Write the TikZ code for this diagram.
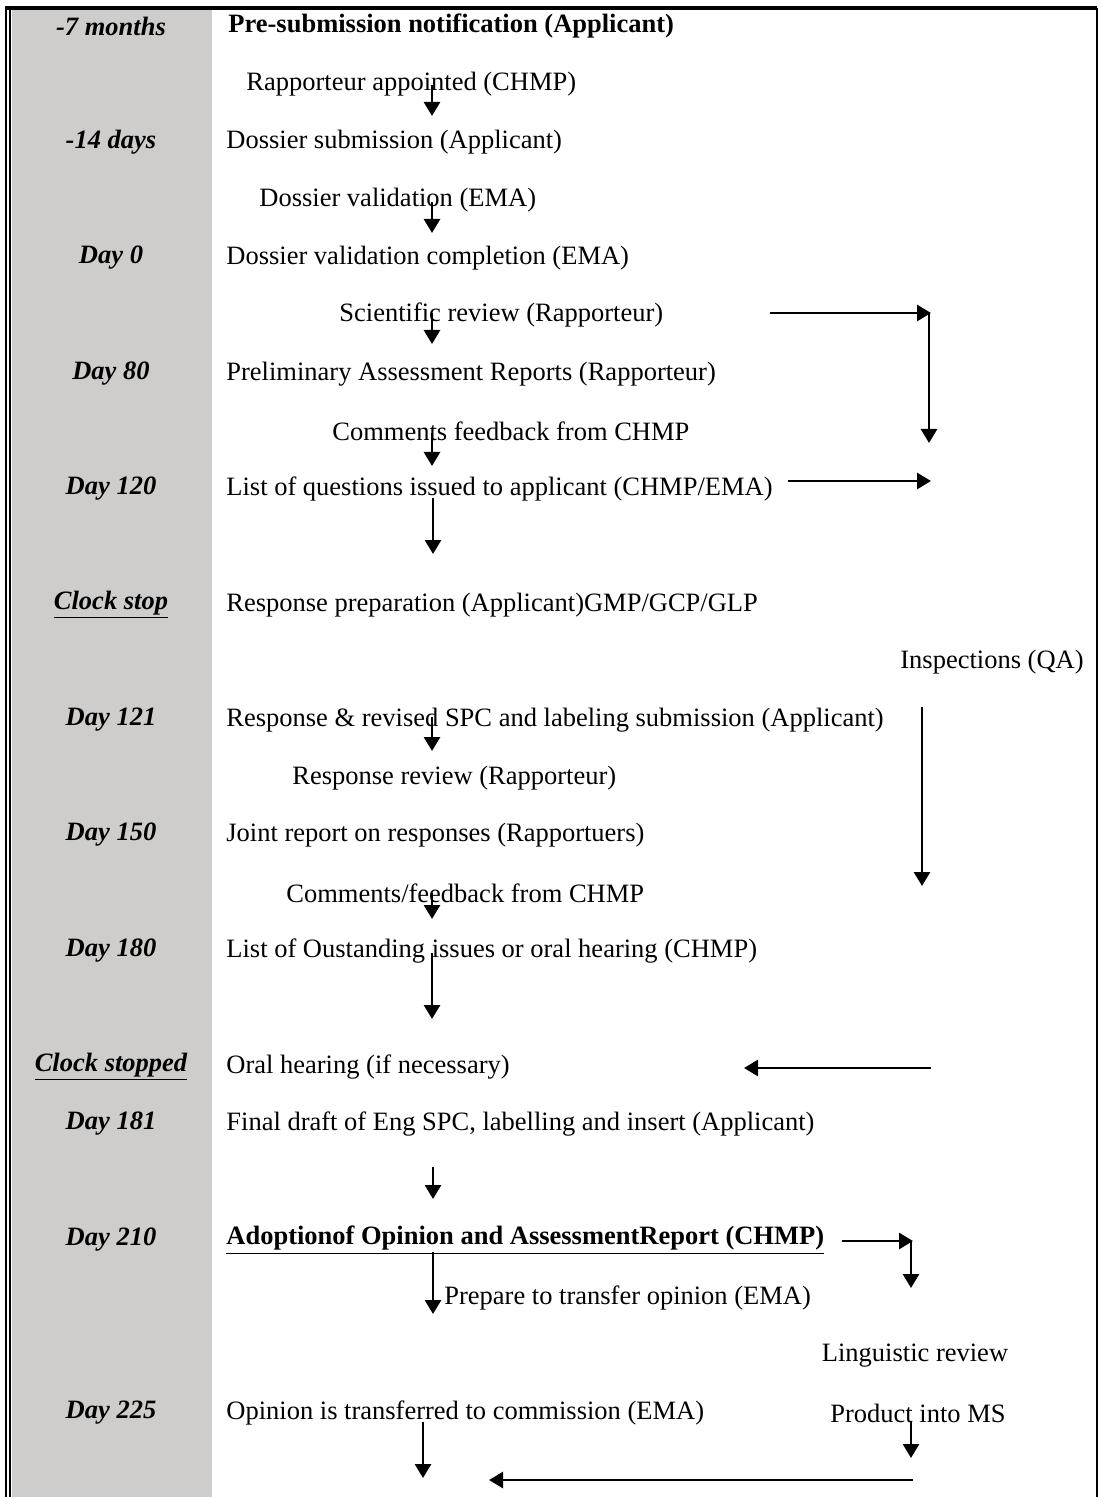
\documentclass[tikz,border=0pt]{standalone}
\usepackage{fontspec}
\setmainfont{Liberation Serif}
\usetikzlibrary{arrows.meta}
\definecolor{colgray}{RGB}{206,205,204}
\tikzset{day/.style={font=\fontsize{13.25}{15}\selectfont\bfseries\itshape, inner sep=0pt, yshift=-1pt},
	stage/.style={anchor=west, font=\fontsize{13.25}{15}\selectfont, inner sep=0pt, yshift=-1pt},
	side/.style={font=\fontsize{13.25}{15}\selectfont, inner sep=0pt, yshift=-1pt},
	flow/.style={-{Triangle[width=8pt,length=7pt]}, line width=1.4pt}}

\begin{document}
\begin{tikzpicture}[x=0.5pt,y=-0.5pt]
		\useasboundingbox (0,0) rectangle (1099,1497);
		% frame and time column
		\fill[colgray] (12,10) rectangle (212,1497);
		\draw[line width=2pt] (5,8) -- (1097,8);
		\draw[line width=1.25pt] (6,8) -- (6,1497);
		\draw[line width=0.75pt] (10,10) -- (10,1497);
		\draw[line width=0.75pt] (1097,8) -- (1097,1497);

		% time points
		\node[day] (m7) at (111,24) {-7 months};
		\node[day] (d14) at (111,140) {-14 days};
		\node[day] (d0) at (111,256) {Day 0};
		\node[day] (d80) at (111,372) {Day 80};
		\node[day] (d120) at (111,487) {Day 120};
		\node[day] (cs) at (111,603) {\underline{Clock stop}};
		\node[day] (d121) at (111,718) {Day 121};
		\node[day] (d150) at (111,833) {Day 150};
		\node[day] (d180) at (111,949) {Day 180};
		\node[day] (csd) at (111,1065) {\underline{Clock stopped}};
		\node[day] (d181) at (111,1122) {Day 181};
		\node[day] (d210) at (111,1238) {Day 210};
		\node[day] (d225) at (111,1411) {Day 225};

		% steps
		\node[stage] (presub) at (228,24) {\bfseries Pre-submission notification (Applicant)};
		\node[stage] (rapp) at (246,82) {Rapporteur appointed (CHMP)};
		\node[stage] (subm) at (226,140) {Dossier submission (Applicant)};
		\node[stage] (valid) at (259,198) {Dossier validation (EMA)};
		\node[stage] (validc) at (226,256) {Dossier validation completion (EMA)};
		\node[stage] (scirev) at (339,313) {Scientific review (Rapporteur)};
		\node[stage] (prelim) at (226,372) {Preliminary Assessment Reports (Rapporteur)};
		\node[stage] (comm) at (332,429) {Comments feedback from CHMP};
		\node[stage] (loq) at (226,487) {List of questions issued to applicant (CHMP/EMA)};
		\node[stage] (resprep) at (226,603) {Response preparation (Applicant)GMP/GCP/GLP};
		\node[side, anchor=east] (insp) at (1084,660) {Inspections (QA)};
		\node[stage] (resp) at (226,718) {Response \& revised SPC and labeling submission (Applicant)};
		\node[stage] (resrev) at (292,776) {Response review (Rapporteur)};
		\node[stage] (joint) at (226,833) {Joint report on responses (Rapportuers)};
		\node[stage] (comm2) at (286,891) {Comments/feedback from CHMP};
		\node[stage] (lois) at (226,949) {List of Oustanding issues or oral hearing (CHMP)};
		\node[stage] (oral) at (226,1065) {Oral hearing (if necessary)};
		\node[stage] (final) at (226,1122) {Final draft of Eng SPC, labelling and insert (Applicant)};
		\node[stage] (adopt) at (226,1238) {\bfseries\underline{Adoptionof Opinion and AssessmentReport (CHMP)}};
		\node[stage] (prep) at (444,1296) {Prepare to transfer opinion (EMA)};
		\node[side] (ling) at (915,1354) {Linguistic review};
		\node[stage] (trans) at (226,1411) {Opinion is transferred to commission (EMA)};
		\node[side] (ms) at (918,1411) {Product into MS};

		% arrow ends
		\coordinate (a1) at (432,85);   \coordinate (b1) at (432,116);
		\coordinate (a2) at (432,202);  \coordinate (b2) at (432,233);
		\coordinate (a3) at (432,313);  \coordinate (b3) at (432,344);
		\coordinate (a4) at (432,433);  \coordinate (b4) at (432,466);
		\coordinate (a5) at (433,498);  \coordinate (b5) at (433,554);
		\coordinate (a6) at (432,717);  \coordinate (b6) at (432,751);
		\coordinate (a7) at (432,893);  \coordinate (b7) at (432,919);
		\coordinate (a8) at (432,953);  \coordinate (b8) at (432,1019);
		\coordinate (a9) at (433,1167); \coordinate (b9) at (433,1199);
		\coordinate (a10) at (433,1252); \coordinate (b10) at (433,1314);
		\coordinate (a11) at (423,1422); \coordinate (b11) at (423,1478);
		\coordinate (revS) at (770,313);  \coordinate (revT) at (931,313);
		\coordinate (revC) at (929,313);  \coordinate (revE) at (929,443);
		\coordinate (loqS) at (788,481);  \coordinate (loqE) at (931,481);
		\coordinate (inspS) at (922,707); \coordinate (inspE) at (922,886);
		\coordinate (oralS) at (931,1068); \coordinate (oralE) at (744,1068);
		\coordinate (adS) at (842,1241);  \coordinate (adT) at (913,1241);
		\coordinate (adC) at (911,1241);  \coordinate (adE) at (911,1288);
		\coordinate (msS) at (911,1422);  \coordinate (msE) at (911,1458);
		\coordinate (botS) at (913,1480); \coordinate (botE) at (489,1480);

		\path [flow](a1) edge node {} (b1);
		\path [flow](a2) edge node {} (b2);
		\path [flow](a3) edge node {} (b3);
		\path [flow](a4) edge node {} (b4);
		\path [flow](a5) edge node {} (b5);
		\path [flow](a6) edge node {} (b6);
		\path [flow](a7) edge node {} (b7);
		\path [flow](a8) edge node {} (b8);
		\path [flow](a9) edge node {} (b9);
		\path [flow](a10) edge node {} (b10);
		\path [flow](a11) edge node {} (b11);
		\path [flow](revS) edge node {} (revT);
		\path [flow](revC) edge node {} (revE);
		\path [flow](loqS) edge node {} (loqE);
		\path [flow](inspS) edge node {} (inspE);
		\path [flow](oralS) edge node {} (oralE);
		\path [flow](adS) edge node {} (adT);
		\path [flow](adC) edge node {} (adE);
		\path [flow](msS) edge node {} (msE);
		\path [flow](botS) edge node {} (botE);

		\end{tikzpicture}
\end{document}
